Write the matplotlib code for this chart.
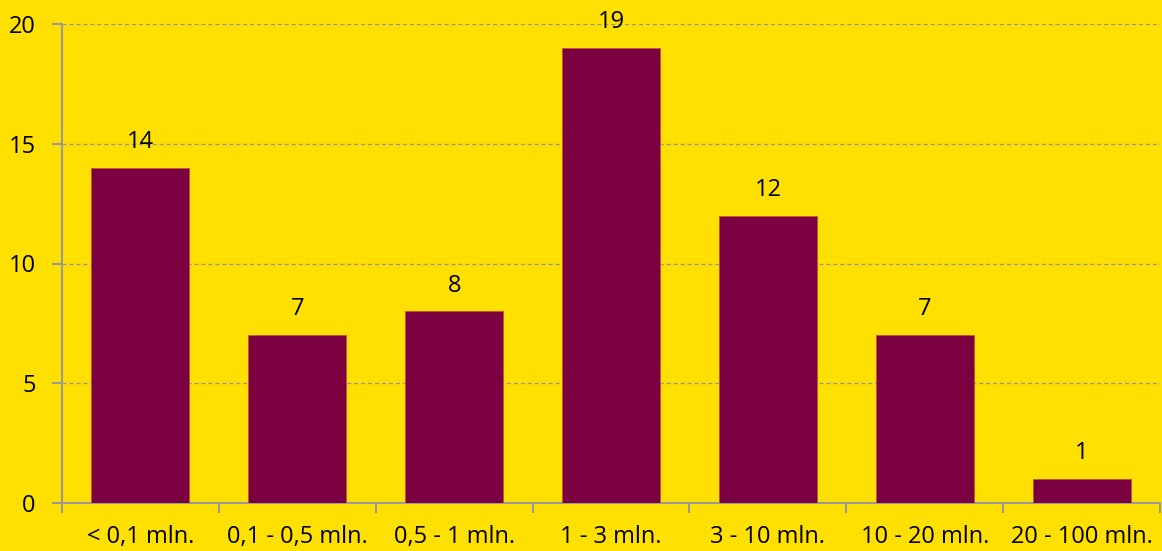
import matplotlib.pyplot as plt
import numpy as np

# data
categories = ['< 0,1 mln.', '0,1 - 0,5 mln.', '0,5 - 1 mln.', '1 - 3 mln.',
              '3 - 10 mln.', '10 - 20 mln.', '20 - 100 mln.']
counts = [14, 7, 8, 19, 12, 7, 1]
y_ticks = [0, 5, 10, 15, 20]

bg = '#FFE000'
bar_col = '#7B003F'
grey = '#999999'

plt.rcParams['font.family'] = ['Open Sans', 'DejaVu Sans']

fig = plt.figure(figsize=(11.62, 5.51), dpi=100, facecolor=bg)
ax = fig.add_axes([62 / 1162, 48 / 551, 1098 / 1162, 479 / 551])
ax.set_facecolor(bg)

x = np.arange(len(categories))
bars = ax.bar(x, counts, width=0.625, color=bar_col, edgecolor='#C0503F', linewidth=0.6, zorder=3)

for xi, v in zip(x, counts):
    ax.annotate(str(v), (xi, v), xytext=(0, 10), textcoords='offset points',
                ha='center', va='bottom', fontsize=17, color='black')

ax.set_xlim(-0.5, len(categories) - 0.5)
ax.set_ylim(0, 20)
ax.set_yticks(y_ticks)
ax.set_yticklabels([str(t) for t in y_ticks], fontsize=17)
ax.yaxis.grid(True, linestyle=(0, (3, 2)), color=grey, linewidth=1)
ax.set_axisbelow(True)

# x ticks at category boundaries, labels centered
ax.set_xticks(np.arange(-0.5, len(categories), 1.0))
ax.set_xticklabels([])
ax.set_xticks(x, minor=True)
ax.set_xticklabels(categories, minor=True, fontsize=17)
ax.tick_params(axis='x', which='minor', length=0, pad=16)
ax.tick_params(axis='x', which='major', length=7, color=grey, width=1.5, direction='out')
ax.tick_params(axis='y', length=7, color=grey, width=1.5, direction='out', pad=12)

for s in ['top', 'right']:
    ax.spines[s].set_visible(False)
for s in ['left', 'bottom']:
    ax.spines[s].set_color(grey)
    ax.spines[s].set_linewidth(1.5)

fig.savefig('out.png', dpi=100, facecolor=bg)
